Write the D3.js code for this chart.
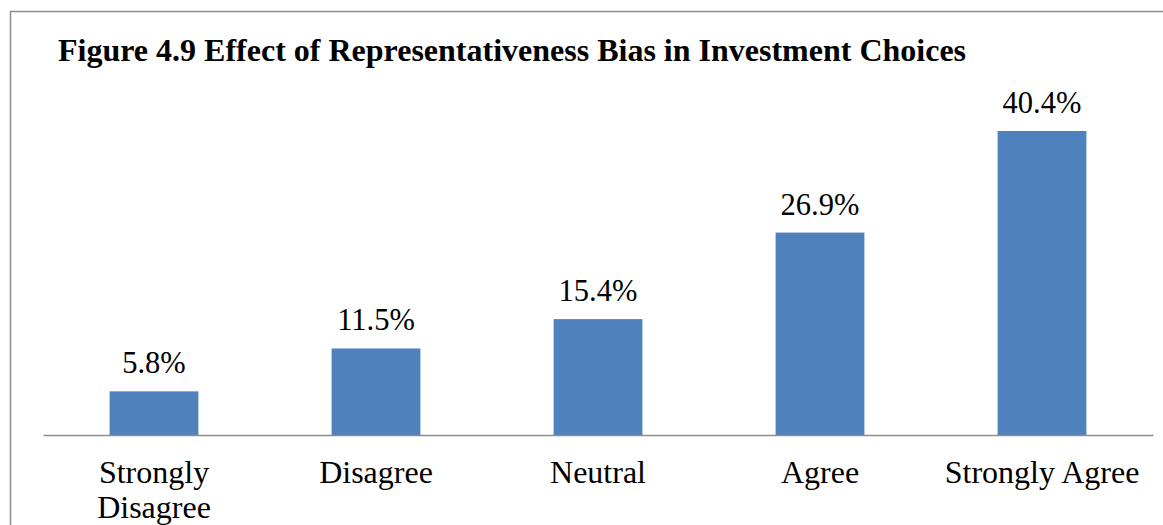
<!DOCTYPE html>
<html>
<head>
<meta charset="utf-8">
<script src="https://cdn.jsdelivr.net/npm/d3@7"></script>
<style>
  html, body { margin: 0; padding: 0; background: #fff; }
  svg { display: block; }
</style>
</head>
<body>
<svg id="chart" width="1163" height="525"></svg>
<script>
// Survey responses: share of respondents per answer
const categories = ["Strongly Disagree", "Disagree", "Neutral", "Agree", "Strongly Agree"];
const categoryLines = [["Strongly", "Disagree"], ["Disagree"], ["Neutral"], ["Agree"], ["Strongly Agree"]];
const values = [5.8, 11.5, 15.4, 26.9, 40.4];
const valueLabels = ["5.8%", "11.5%", "15.4%", "26.9%", "40.4%"];
const titleText = "Figure 4.9 Effect of Representativeness Bias in Investment Choices";

const svg = d3.select("#chart");
const W = 1163, H = 525;
const serif = "'Liberation Serif', 'Times New Roman', serif";

// frame
svg.append("rect")
  .attr("x", 10.5).attr("y", 11.5)
  .attr("width", W + 20).attr("height", H + 20)
  .attr("fill", "#fff")
  .attr("stroke", "#8c8c8c").attr("stroke-width", 1.5);

// title
svg.append("text")
  .attr("x", 58).attr("y", 61)
  .attr("font-family", serif)
  .attr("font-weight", "bold")
  .attr("font-size", 32)
  .attr("fill", "#000")
  .text(titleText);

const plot = { left: 43, right: 1153, baseline: 435 };

const x = d3.scaleBand()
  .domain(categories)
  .range([plot.left, plot.right])
  .padding(0);

const barW = x.bandwidth() * 0.4;

const y = d3.scaleLinear()
  .domain([0, 40.4])
  .range([plot.baseline, 131]);

// bars
svg.selectAll("rect.bar")
  .data(values)
  .join("rect")
  .attr("class", "bar")
  .attr("x", (d, i) => x(categories[i]) + (x.bandwidth() - barW) / 2)
  .attr("y", d => y(d))
  .attr("width", barW)
  .attr("height", d => y(0) - y(d))
  .attr("fill", "#4F81BD");

// value labels
svg.selectAll("text.val")
  .data(values)
  .join("text")
  .attr("class", "val")
  .attr("x", (d, i) => x(categories[i]) + x.bandwidth() / 2)
  .attr("y", d => y(d) - 18)
  .attr("text-anchor", "middle")
  .attr("font-family", serif)
  .attr("font-size", 30.5)
  .attr("fill", "#000")
  .text((d, i) => valueLabels[i]);

// category axis
const axis = d3.axisBottom(x).tickSize(0).tickFormat("");
const gAxis = svg.append("g")
  .attr("transform", `translate(0,${plot.baseline})`)
  .call(axis);
gAxis.select(".domain").attr("stroke", "#8c8c8c").attr("stroke-width", 1.5);

gAxis.selectAll(".tick").each(function(d, i) {
  const t = d3.select(this).append("text")
    .attr("text-anchor", "middle")
    .attr("font-family", serif)
    .attr("font-size", 32)
    .attr("fill", "#000");
  categoryLines[i].forEach((line, j) => {
    t.append("tspan").attr("x", 0).attr("y", 48 + j * 35).text(line);
  });
});
</script>
</body>
</html>
